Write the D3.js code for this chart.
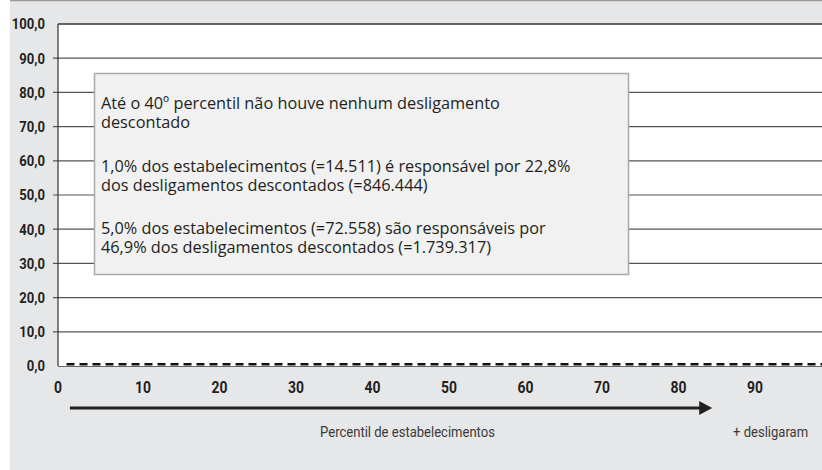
<!DOCTYPE html>
<html>
<head>
<meta charset="utf-8">
<script src="https://cdn.jsdelivr.net/npm/d3@7"></script>
<style>
  body { margin: 0; background: #fff; }
  svg { display: block; }
</style>
</head>
<body>
<svg width="822" height="470"></svg>
<script>
// data
var percentis = [0, 10, 20, 30, 40, 50, 60, 70, 80, 90, 99];
var desligados = [0.5, 0.5, 0.5, 0.5, 0.5, 0.5, 0.5, 0.5, 0.5, 0.5, 0.5];
var yTicks = [0, 10, 20, 30, 40, 50, 60, 70, 80, 90, 100];
var xTicks = [0, 10, 20, 30, 40, 50, 60, 70, 80, 90];
var notas = [
  ["Até o 40º percentil não houve nenhum desligamento", "descontado"],
  ["1,0% dos estabelecimentos (=14.511) é responsável por 22,8%", "dos desligamentos descontados (=846.444)"],
  ["5,0% dos estabelecimentos (=72.558) são responsáveis por", "46,9% dos desligamentos descontados (=1.739.317)"]
];
var tituloX = "Percentil de estabelecimentos";
var extremo = "+ desligaram";

var svg = d3.select("svg");
var width = +svg.attr("width"),
    height = +svg.attr("height");

var squeeze = 0.87; // the original font is a condensed one

// panel
svg.append("rect").attr("x", 10).attr("y", 0).attr("width", width - 10).attr("height", height)
    .attr("fill", "#e6e7e8");
svg.append("line").attr("x1", 10).attr("x2", width).attr("y1", 0.5).attr("y2", 0.5)
    .attr("stroke", "#9a9a9a").attr("stroke-width", 1.5);

var plotLeft = 58;

var x = d3.scaleLinear().domain([0, 100]).range([66.5, 831.5]);
var y = d3.scaleLinear().domain([0, 100]).range([366, 24]);

// plot area
svg.append("rect")
    .attr("x", plotLeft).attr("y", y(100))
    .attr("width", width - plotLeft).attr("height", y(0) - y(100))
    .attr("fill", "#fff");

// grid + y axis
var grid = svg.append("g").attr("class", "grid");
grid.selectAll("line")
    .data(yTicks.filter(function (d) { return d > 0; })).enter()
    .append("line")
    .attr("x1", function (d) { return d === 100 ? plotLeft : plotLeft - 5; })
    .attr("x2", width)
    .attr("y1", function (d) { return y(d); })
    .attr("y2", function (d) { return y(d); })
    .attr("stroke", function (d) { return d === 100 ? "#333" : "#555"; })
    .attr("stroke-width", function (d) { return d === 100 ? 1.6 : 1.2; });

svg.append("line")
    .attr("x1", plotLeft).attr("x2", plotLeft)
    .attr("y1", y(100)).attr("y2", y(0))
    .attr("stroke", "#333").attr("stroke-width", 1.2);
svg.append("line")
    .attr("x1", plotLeft).attr("x2", width)
    .attr("y1", y(0) + 0.5).attr("y2", y(0) + 0.5)
    .attr("stroke", "#666").attr("stroke-width", 1);

function condensed(sel, px, py) {
  sel.attr("transform", function (d) {
    return "translate(" + px(d) + "," + py(d) + ") scale(" + squeeze + ",1)";
  });
}

svg.append("g").selectAll("text")
    .data(yTicks).enter()
    .append("text")
    .call(condensed, function () { return 45; }, function (d) { return y(d); })
    .attr("dy", "0.36em")
    .attr("text-anchor", "end")
    .attr("font-family", "Roboto, sans-serif")
    .attr("font-weight", "bold")
    .attr("font-size", 15)
    .attr("fill", "#231f20")
    .text(function (d) { return d3.format(".1f")(d).replace(".", ","); });

svg.append("g").selectAll("text")
    .data(xTicks).enter()
    .append("text")
    .call(condensed, function (d) { return d === 0 ? plotLeft : x(d); }, function () { return 393; })
    .attr("text-anchor", "middle")
    .attr("font-family", "Roboto, sans-serif")
    .attr("font-weight", "bold")
    .attr("font-size", 16)
    .attr("fill", "#231f20")
    .text(function (d) { return d; });

// data line
var linha = d3.line()
    .x(function (d, i) { return x(percentis[i]); })
    .y(function (d) { return y(d); });

svg.append("path")
    .datum(desligados)
    .attr("d", linha)
    .attr("fill", "none")
    .attr("stroke", "#111")
    .attr("stroke-width", 2.6)
    .attr("stroke-dasharray", "8,5");

// annotation box
var box = svg.append("g").attr("class", "nota");
box.append("rect")
    .attr("x", 94.5).attr("y", 73.5)
    .attr("width", 534).attr("height", 201)
    .attr("fill", "#f1f1f1")
    .attr("stroke", "#a7a9ac").attr("stroke-width", 1.5);

var baselines = [[109, 128], [172, 191], [234, 253]];
notas.forEach(function (par, i) {
  par.forEach(function (t, j) {
    box.append("text")
        .attr("x", 101)
        .attr("y", baselines[i][j])
        .attr("font-family", "'Open Sans', sans-serif")
        .attr("font-size", 16.3)
        .attr("fill", "#231f20")
        .text(t);
  });
});

// arrow under the x axis
var arrowY = 408;
svg.append("line")
    .attr("x1", x(0.45)).attr("x2", x(83))
    .attr("y1", arrowY).attr("y2", arrowY)
    .attr("stroke", "#231f20").attr("stroke-width", 3);
svg.append("path")
    .attr("d", "M" + x(84.4) + "," + arrowY + "L" + (x(84.4) - 13) + "," + (arrowY - 7) +
               "L" + (x(84.4) - 13) + "," + (arrowY + 7) + "Z")
    .attr("fill", "#231f20");

svg.append("text")
    .attr("transform", "translate(407.5,437) scale(" + squeeze + ",1)")
    .attr("text-anchor", "middle")
    .attr("font-family", "Roboto, sans-serif")
    .attr("font-size", 15)
    .attr("fill", "#3a3a3a")
    .text(tituloX);

svg.append("text")
    .attr("transform", "translate(733,437) scale(" + squeeze + ",1)")
    .attr("font-family", "Roboto, sans-serif")
    .attr("font-size", 15)
    .attr("fill", "#3a3a3a")
    .text(extremo);
</script>
</body>
</html>
